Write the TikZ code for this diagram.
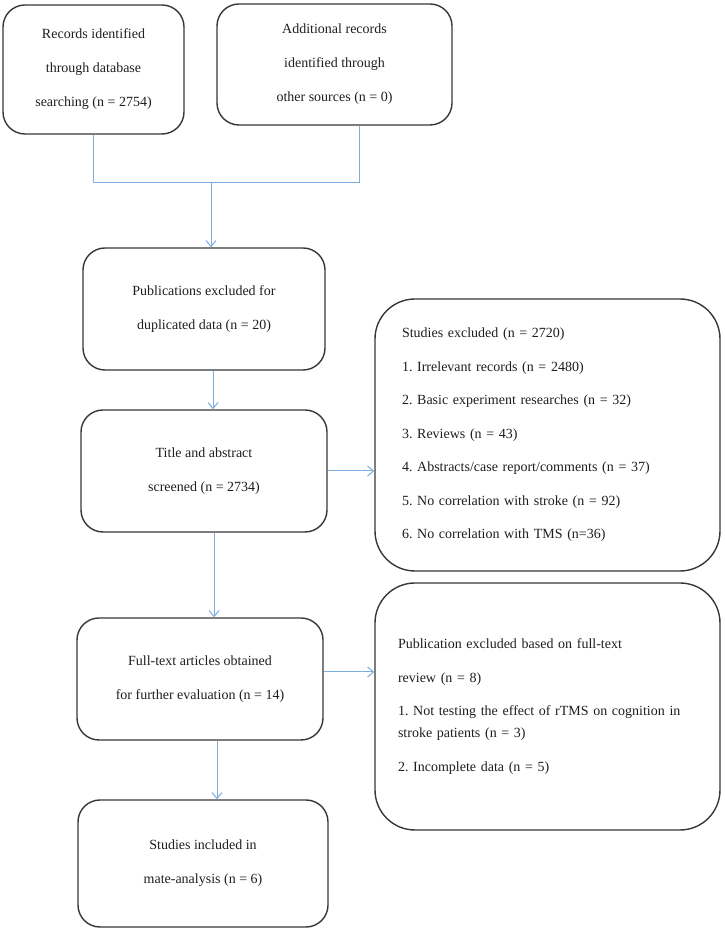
\documentclass[tikz,border=0pt]{standalone}
\usepackage{fontspec}
\setmainfont{Liberation Serif}
\usetikzlibrary{arrows.meta}
\definecolor{boxgray}{RGB}{55,55,55}
\definecolor{linkblue}{RGB}{125,172,222}
\definecolor{textgray}{RGB}{30,30,30}
\frenchspacing

\begin{document}
\begin{tikzpicture}[x=1bp, y=1bp,
                        >={Straight Barb[length=6bp,width=10bp]},
                        main node/.style={draw=boxgray, line width=1.4bp, rounded corners=22bp,
                          align=center, text=textgray, inner sep=0pt,
                          font=\fontsize{14bp}{34bp}\selectfont},
                        side node/.style={draw=boxgray, line width=1.4bp, rounded corners=40bp,
                          align=left, text=textgray, inner ysep=0pt,
                          font=\fontsize{14bp}{33.5bp}\selectfont},
                        link/.style={draw=linkblue, line width=1bp}]

      \useasboundingbox (0,0) rectangle (725,931);

      \node[main node, minimum width=181bp, minimum height=129bp] (1) at (93.5,861.5)
        {Records identified\\through database\\searching (n = 2754)};
      \node[main node, minimum width=235bp, minimum height=121bp] (2) at (334.5,866.5)
        {Additional records\\identified through\\other sources (n = 0)};
      \node[main node, minimum width=242bp, minimum height=122bp] (3) at (204,622)
        {Publications excluded for\\duplicated data (n = 20)};
      \node[main node, minimum width=246bp, minimum height=122bp] (4) at (204,460)
        {Title and abstract\\screened (n = 2734)};
      \node[main node, minimum width=246bp, minimum height=122bp] (5) at (200,252)
        {Full-text articles obtained\\for further evaluation (n = 14)};
      \node[main node, minimum width=250bp, minimum height=127bp] (6) at (203,67.5)
        {Studies included in\\mate-analysis (n = 6)};
      \node[side node, text width=291bp, inner xsep=27bp, minimum height=272bp] (7) at (547.5,496)
        {Studies excluded (n = 2720)\\
         1. Irrelevant records (n = 2480)\\
         2. Basic experiment researches (n = 32)\\
         3. Reviews (n = 43)\\
         4. Abstracts/case report/comments (n = 37)\\
         5. No correlation with stroke (n = 92)\\
         6. No correlation with TMS (n=36)};
      \node[side node, text width=299bp, inner xsep=23bp, minimum height=247bp] (8) at (547.5,224.5)
        {Publication excluded based on full-text\\
         review (n = 8)\\
         1. Not testing the effect of rTMS on cognition in\\[-11.5bp]
         stroke patients (n = 3)\\
         2. Incomplete data (n = 5)};

      \coordinate (m) at (211,748);

      \draw[link] (1.south) |- (m);
      \draw[link] ([xshift=24.5bp]2.south) |- (m);
      \draw[link, ->] (m) -- (m |- 3.north);
      \draw[link, ->] ([xshift=9bp]3.south) -- ([xshift=9bp]3.south |- 4.north);
      \draw[link, ->] ([xshift=10bp]4.south) -- ([xshift=10bp]4.south |- 5.north);
      \draw[link, ->] ([xshift=17bp]5.south) -- ([xshift=17bp]5.south |- 6.north);
      \draw[link, ->] (4.east) -- (4.east -| 7.west);
      \draw[link, ->] ([yshift=7bp]5.east) -- ([yshift=7bp]5.east -| 8.west);

    \end{tikzpicture}
\end{document}
